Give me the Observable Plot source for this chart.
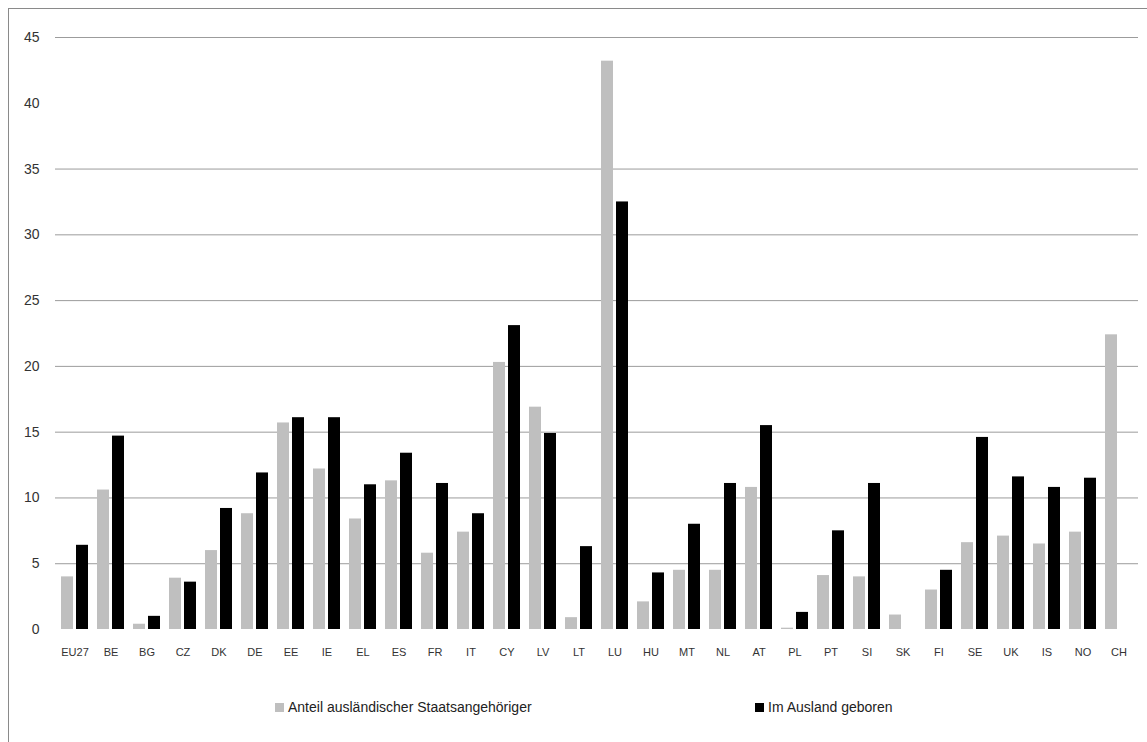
<!DOCTYPE html>
<html>
<head>
<meta charset="utf-8">
<script src="https://cdn.jsdelivr.net/npm/d3@7"></script>
<script src="https://cdn.jsdelivr.net/npm/@observablehq/plot@0.6"></script>
<style>
  html, body { margin: 0; padding: 0; background: #fff; }
  body { width: 1147px; height: 742px; overflow: hidden; position: relative; font-family: "Liberation Sans", Arial, sans-serif; }
  #frame { position: absolute; left: 8px; top: 8px; width: 1300px; height: 900px; border: 1px solid #8a8a8a; box-sizing: border-box; }
  .layer { position: absolute; left: 0; top: 0; }
  .legend-item { position: absolute; display: flex; align-items: center; font-size: 14px; color: #222; white-space: nowrap; }
  .legend-item .sw { width: 9px; height: 9px; margin-right: 4px; display: inline-block; }
</style>
</head>
<body>
<div id="frame"></div>
<div id="bg" class="layer"></div>
<div id="fg" class="layer"></div>
<div id="legend"></div>
<script>
// ---- data ----
const countries = ["EU27","BE","BG","CZ","DK","DE","EE","IE","EL","ES","FR","IT","CY","LV","LT","LU","HU","MT","NL","AT","PL","PT","SI","SK","FI","SE","UK","IS","NO","CH"];
const seriesNames = ["Anteil ausländischer Staatsangehöriger", "Im Ausland geboren"];
const seriesColors = ["#bfbfbf", "#000000"];
const foreignNationals = [4.0, 10.6, 0.4, 3.9, 6.0, 8.8, 15.7, 12.2, 8.4, 11.3, 5.8, 7.4, 20.3, 16.9, 0.9, 43.2, 2.1, 4.5, 4.5, 10.8, 0.1, 4.1, 4.0, 1.1, 3.0, 6.6, 7.1, 6.5, 7.4, 22.4];
const foreignBorn = [6.4, 14.7, 1.0, 3.6, 9.2, 11.9, 16.1, 16.1, 11.0, 13.4, 11.1, 8.8, 23.1, 14.9, 6.3, 32.5, 4.3, 8.0, 11.1, 15.5, 1.3, 7.5, 11.1, null, 4.5, 14.6, 11.6, 10.8, 11.5, null];
const yTicks = [0, 5, 10, 15, 20, 25, 30, 35, 40, 45];
const gridLines = [5, 10, 15, 20, 25, 30, 35, 45];

const rows = [];
countries.forEach((c, i) => {
  rows.push({country: c, series: seriesNames[0], value: foreignNationals[i]});
  if (foreignBorn[i] != null) rows.push({country: c, series: seriesNames[1], value: foreignBorn[i]});
});

const W = 1147, H = 680;
const common = {width: W, height: H, marginLeft: 55, marginRight: 9, marginTop: 37, marginBottom: 51};

// background: gridlines + y axis
const bg = Plot.plot({
  ...common,
  style: {fontSize: "14px", fontFamily: "'Liberation Sans', Arial, sans-serif", color: "#333", background: "transparent"},
  y: {domain: [0, 45], ticks: yTicks, tickSize: 0, tickPadding: 16, label: null},
  marks: [
    Plot.ruleY(gridLines, {stroke: "#9c9c9c", strokeWidth: 1})
  ]
});
document.getElementById("bg").appendChild(bg);

// foreground: grouped bars
const fg = Plot.plot({
  ...common,
  style: {fontSize: "11px", fontFamily: "'Liberation Sans', Arial, sans-serif", color: "#333", background: "transparent"},
  fx: {domain: countries, paddingInner: 0.25, paddingOuter: 0.125, axis: "bottom", tickSize: 0, tickPadding: 19, label: null},
  x: {domain: seriesNames, paddingInner: 0.2, paddingOuter: 0, axis: null},
  y: {domain: [0, 45], axis: null},
  color: {domain: seriesNames, range: seriesColors},
  marks: [
    Plot.barY(rows, {fx: "country", x: "series", y: "value", fill: "series"})
  ]
});
document.getElementById("fg").appendChild(fg);

// legend
const legendPos = [{left: 275, top: 699}, {left: 755, top: 699}];
const legend = document.getElementById("legend");
seriesNames.forEach((name, i) => {
  const item = document.createElement("div");
  item.className = "legend-item";
  item.style.left = legendPos[i].left + "px";
  item.style.top = legendPos[i].top + "px";
  const sw = document.createElement("span");
  sw.className = "sw";
  sw.style.background = seriesColors[i];
  item.appendChild(sw);
  item.appendChild(document.createTextNode(name));
  legend.appendChild(item);
});
</script>
</body>
</html>
